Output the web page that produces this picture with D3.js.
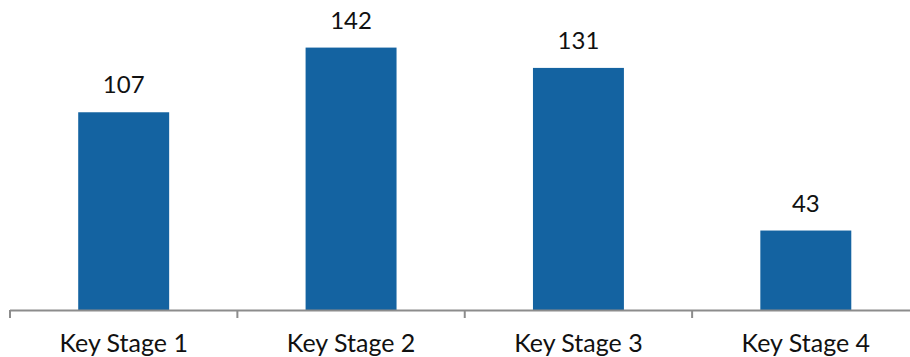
<!DOCTYPE html>
<html>
<head>
<meta charset="utf-8">
<script src="https://cdn.jsdelivr.net/npm/d3@7"></script>
<style>
  html, body { margin: 0; padding: 0; background: #fff; }
  svg { display: block; }
  text { font-family: "Lato", "Open Sans", sans-serif; fill: #111; }
</style>
</head>
<body>
<svg id="chart" width="910" height="357"></svg>
<script>
const categories = ["Key Stage 1", "Key Stage 2", "Key Stage 3", "Key Stage 4"];
const values = [107, 142, 131, 43];

const svg = d3.select("#chart");
const baseY = 310;

const x = d3.scaleBand()
  .domain(categories)
  .range([10, 919.5])
  .paddingInner(0.6)
  .paddingOuter(0.3);

const y = d3.scaleLinear()
  .domain([0, 160])
  .range([baseY, baseY - 160 * 1.848]);

// bars
svg.append("g")
  .selectAll("rect")
  .data(values)
  .join("rect")
  .attr("x", (d, i) => x(categories[i]))
  .attr("y", d => y(d))
  .attr("width", x.bandwidth())
  .attr("height", d => y(0) - y(d))
  .attr("fill", "#1463a1");

// value labels
svg.append("g")
  .selectAll("text")
  .data(values)
  .join("text")
  .attr("x", (d, i) => x(categories[i]) + x.bandwidth() / 2)
  .attr("y", d => y(d) - 19)
  .attr("text-anchor", "middle")
  .style("font-size", "24px")
  .text(d => d);

// category axis with boundary ticks
const axisG = svg.append("g");
const step = x.step();
const edges = d3.range(categories.length + 1).map(i => 10 + i * step);
axisG.append("line")
  .attr("x1", 10).attr("x2", 919.5)
  .attr("y1", baseY + 0.5).attr("y2", baseY + 0.5)
  .attr("stroke", "#8c8c8c").attr("stroke-width", 2);
axisG.selectAll("line.tick")
  .data(edges)
  .join("line")
  .attr("class", "tick")
  .attr("x1", d => d).attr("x2", d => d)
  .attr("y1", baseY).attr("y2", baseY + 8)
  .attr("stroke", "#8c8c8c").attr("stroke-width", 2);
axisG.selectAll("text")
  .data(categories)
  .join("text")
  .attr("x", d => x(d) + x.bandwidth() / 2)
  .attr("y", 351.5)
  .attr("text-anchor", "middle")
  .style("font-size", "25px")
  .text(d => d);
</script>
</body>
</html>
